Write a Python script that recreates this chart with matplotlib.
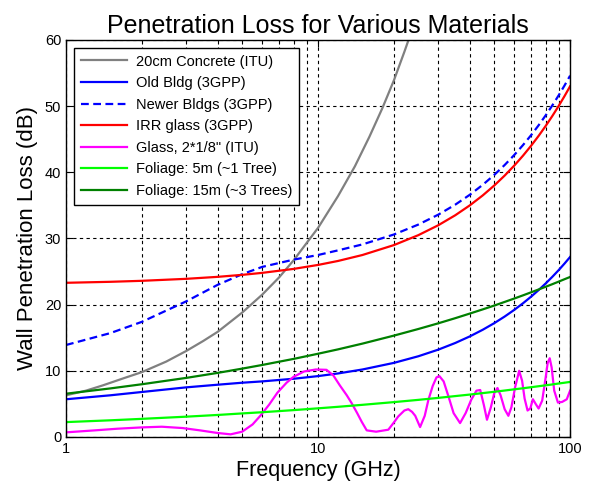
import matplotlib
matplotlib.use("Agg")
import matplotlib.pyplot as plt
from matplotlib.ticker import LogLocator, NullFormatter, FixedLocator, FixedFormatter

plt.rcParams['font.family'] = ['Liberation Sans', 'DejaVu Sans']

# Shared frequency grid (GHz) for the smooth curves
freq = [1, 1.5, 2, 3, 4, 5, 6, 8, 10, 12, 15, 20, 25, 30, 35, 40, 45, 50,
        55, 60, 65, 70, 75, 80, 85, 90, 95, 100]

old_bldg = [5.7, 6.3, 6.8, 7.5, 7.9, 8.2, 8.4, 8.8, 9.2, 9.6, 10.2, 11.2, 12.2,
            13.2, 14.2, 15.2, 16.2, 17.2, 18.2, 19.2, 20.2, 21.2, 22.2, 23.2,
            24.2, 25.2, 26.2, 27.2]
newer_bldg = [13.9, 15.7, 17.4, 20.5, 23.0, 24.6, 25.7, 26.8, 27.5, 28.2, 29.1,
              30.6, 32.1, 33.6, 35.1, 36.6, 38.1, 39.6, 41.1, 42.6, 44.1, 45.6,
              47.1, 48.6, 50.1, 51.6, 53.1, 54.6]
irr_glass = [23.3, 23.45, 23.6, 23.9, 24.2, 24.5, 24.8, 25.4, 26.0, 26.6, 27.5,
             29.0, 30.5, 32.0, 33.5, 35.0, 36.5, 38.0, 39.5, 41.0, 42.5, 44.0,
             45.5, 47.0, 48.5, 50.0, 51.5, 53.0]
foliage_5m = [2.25, 2.52, 2.74, 3.07, 3.33, 3.56, 3.74, 4.06, 4.33, 4.56, 4.86,
              5.27, 5.61, 5.91, 6.18, 6.41, 6.63, 6.83, 7.02, 7.20, 7.36, 7.52,
              7.67, 7.81, 7.94, 8.08, 8.20, 8.32]
foliage_15m = [6.54, 7.34, 7.97, 8.93, 9.69, 10.33, 10.88, 11.80, 12.58, 13.24,
               14.11, 15.32, 16.32, 17.18, 17.95, 18.65, 19.28, 19.86, 20.41,
               20.92, 21.40, 21.86, 22.29, 22.70, 23.09, 23.47, 23.84, 24.18]

# 20 cm concrete (ITU)
freq_concrete = [1, 1.2, 1.4, 1.7, 2, 2.5, 3, 3.5, 4, 5, 6, 7, 8, 10, 12, 14,
                 16, 18, 20, 22, 24]
concrete = [6.3, 7.0, 7.8, 8.9, 9.8, 11.4, 13.0, 14.5, 15.9, 18.8, 21.5, 24.1,
            26.7, 31.6, 36.4, 40.9, 45.4, 49.7, 53.9, 58.2, 62.3]

# Glass, 2*1/8" (ITU)
freq_glass = [1.0, 1.3, 1.6, 2.0, 2.4, 2.9, 3.4, 4.0, 4.5, 5.0, 5.5, 5.9, 6.4,
              6.9, 7.5, 8.0, 8.8, 9.8, 10.8, 11.5, 12.2, 13.0, 13.6, 14.3,
              14.9, 15.6, 17.0, 19.0, 20.0, 20.8, 22.0, 22.8, 23.6, 24.3, 25.4,
              26.5, 27.4, 28.5, 29.5, 30.3, 31.5, 33.0, 34.5, 36.6, 38.5, 40.5,
              42.5, 44.0, 45.5, 46.8, 48.5, 50.0, 51.5, 53.0, 55.0, 56.9, 58.5,
              60.5, 62.8, 64.5, 66.0, 67.8, 69.5, 71.2, 73.0, 75.0, 77.5, 80.0,
              81.5, 83.0, 84.5, 86.5, 89.5, 93.0, 97.0, 100.0]
glass = [0.7, 1.0, 1.25, 1.45, 1.55, 1.35, 1.0, 0.6, 0.4, 0.8, 1.9, 3.2, 4.9,
         6.7, 8.2, 9.1, 9.9, 10.2, 10.15, 9.3, 7.8, 6.3, 5.1, 3.6, 2.3, 1.0,
         0.8, 1.1, 2.2, 3.1, 4.0, 4.2, 3.8, 3.2, 1.5, 3.2, 5.6, 7.7, 9.0, 9.2,
         8.4, 6.0, 3.6, 2.1, 3.6, 5.6, 7.0, 7.1, 4.8, 2.6, 4.5, 6.6, 7.4, 6.3,
         4.2, 3.2, 4.5, 7.5, 10.0, 8.5, 5.8, 4.0, 4.3, 5.7, 5.0, 4.3, 5.5, 9.0,
         11.2, 11.9, 10.5, 7.0, 5.2, 5.3, 5.7, 7.0]

labels = ["20cm Concrete (ITU)", "Old Bldg (3GPP)", "Newer Bldgs (3GPP)",
          "IRR glass (3GPP)", "Glass, 2*1/8\" (ITU)", "Foliage: 5m (~1 Tree)",
          "Foliage: 15m (~3 Trees)"]

fig = plt.figure(figsize=(5.92, 4.87), dpi=100)
ax = fig.add_axes([0.1115, 0.1027, 0.8515, 0.8153])

lw = 1.6
ax.plot(freq_concrete, concrete, color='#808080', lw=lw, label=labels[0])
ax.plot(freq, old_bldg, color='#0000ff', lw=lw, label=labels[1])
ax.plot(freq, newer_bldg, color='#0000ff', lw=lw, ls=(0, (3.5, 2)), label=labels[2])
ax.plot(freq, irr_glass, color='#ff0000', lw=lw, label=labels[3])
ax.plot(freq_glass, glass, color='#ff00ff', lw=lw, label=labels[4])
ax.plot(freq, foliage_5m, color='#00ff00', lw=lw, label=labels[5])
ax.plot(freq, foliage_15m, color='#008000', lw=lw, label=labels[6])

ax.set_xscale('log')
ax.set_xlim(1, 100)
ax.set_ylim(0, 60)
ax.xaxis.set_major_locator(FixedLocator([1, 10, 100]))
ax.xaxis.set_major_formatter(FixedFormatter(['1', '10', '100']))
ax.xaxis.set_minor_locator(LogLocator(base=10, subs=range(2, 10)))
ax.xaxis.set_minor_formatter(NullFormatter())
ax.set_yticks([0, 10, 20, 30, 40, 50, 60])

ax.grid(True, which='major', color='black', lw=0.8, ls=(0, (3, 3)))
ax.grid(True, which='minor', axis='x', color='black', lw=0.8, ls=(0, (3, 3)))
ax.tick_params(which='both', direction='in', top=True, right=True, labelsize=10.5)
ax.tick_params(which='major', length=5)
ax.tick_params(which='minor', length=3)
for s in ax.spines.values():
    s.set_linewidth(1.0)
    s.set_color('black')

ax.set_title("Penetration Loss for Various Materials", fontsize=18, pad=5)
ax.set_xlabel("Frequency (GHz)", fontsize=15.5, labelpad=3)
ax.set_ylabel("Wall Penetration Loss (dB)", fontsize=16, labelpad=5)

leg = ax.legend(loc='upper left', fontsize=10.5, fancybox=False, framealpha=1,
                edgecolor='black', labelspacing=0.52, handlelength=3.2,
                borderaxespad=0.55, handletextpad=0.6, borderpad=0.45)
leg.get_frame().set_linewidth(1.0)

fig.savefig("out.png", dpi=100)
